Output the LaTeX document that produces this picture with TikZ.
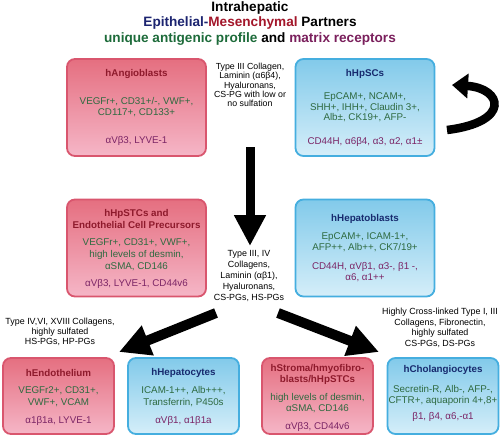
\documentclass[tikz,border=0pt]{standalone}
\usepackage{fontspec}
\setmainfont{Liberation Sans}
\usetikzlibrary{arrows.meta}
\definecolor{navy}{HTML}{1C2470}
\definecolor{mesred}{HTML}{A3162A}
\definecolor{ttlgreen}{HTML}{1D6B3A}
\definecolor{ttlpurple}{HTML}{7A1F5C}
\definecolor{pinktitle}{HTML}{8E1A2C}
\definecolor{bluetitle}{HTML}{172A6E}
\definecolor{boxgreen}{HTML}{2E6A40}
\definecolor{boxpurple}{HTML}{7B2566}
\definecolor{pinktop}{HTML}{E56F80}
\definecolor{pinkbot}{HTML}{F5B6C7}
\definecolor{pinkline}{HTML}{D9566E}
\definecolor{bluetop}{HTML}{82CAEA}
\definecolor{bluebot}{HTML}{D5EEF9}
\definecolor{blueline}{HTML}{45AEDF}
\tikzset{
  cellbox/.style={line width=1.8pt, rounded corners=8pt, inner sep=0pt},
  pinkbox/.style={cellbox, draw=pinkline, top color=pinktop, bottom color=pinkbot},
  bluebox/.style={cellbox, draw=blueline, top color=bluetop, bottom color=bluebot},
  bigbox/.style={minimum width=139pt, minimum height=97pt},
  smallbox/.style={minimum width=111pt, minimum height=76pt},
  bodytxt/.style={align=center, inner sep=0pt, font=\fontsize{9.8}{11}\selectfont},
  ptitle/.style={bodytxt, text=pinktitle, font=\fontsize{9.8}{12}\selectfont\bfseries},
  btitle/.style={bodytxt, text=bluetitle, font=\fontsize{9.8}{12}\selectfont\bfseries},
  grn/.style={bodytxt, text=boxgreen},
  prp/.style={bodytxt, text=boxpurple},
  matrixlbl/.style={align=center, inner sep=0pt, text=black},
  headline/.style={inner sep=0pt, font=\fontsize{13.6}{15}\selectfont\bfseries},
  bigarrow/.style={line width=9pt, -{Triangle[length=31pt,width=30pt]}},
}
\begin{document}
\begin{tikzpicture}[x=1pt,y=-1pt]
\useasboundingbox (0,0) rectangle (500,437);
% headings
\node[headline] (h1) at (250,7.5) {Intrahepatic};
\node[headline] (h2) at (250,23) {\textcolor{navy}{Epithelial-}\textcolor{mesred}{Mesenchymal} Partners};
\node[headline] (h3) at (250,39) {\textcolor{ttlgreen}{unique antigenic profile} and \textcolor{ttlpurple}{matrix receptors}};

% boxes
\node[pinkbox,bigbox] (angio) at (136.5,107.5) {};
\node[bluebox,bigbox] (hpsc) at (365,107.5) {};
\node[pinkbox,bigbox] (stc) at (136.5,248) {};
\node[bluebox,bigbox] (hblast) at (365,248) {};
\node[pinkbox,smallbox] (endo) at (58.5,396) {};
\node[bluebox,smallbox] (hepa) at (183.5,396) {};
\node[pinkbox,smallbox] (stroma) at (317.5,396) {};
\node[bluebox,smallbox] (chol) at (443,396) {};

% hAngioblasts
\node[ptitle] (angiot) at (136.5,74) {hAngioblasts};
\node[grn] (angiog) at (136.5,107.5) {VEGFr+, CD31+/-, VWF+,\\CD117+, CD133+};
\node[prp] (angiop) at (136.5,141) {αVβ3, LYVE-1};

% hHpSCs
\node[btitle] (hpsct) at (365,74) {hHpSCs};
\node[grn,font=\fontsize{9.8}{10.6}\selectfont] (hpscg) at (365,107.5) {EpCAM+, NCAM+,\\SHH+, IHH+, Claudin 3+,\\Alb±, CK19+, AFP-};
\node[prp] (hpscp) at (365,142) {CD44H, α6β4, α3, α2, α1±};

% hHpSTCs
\node[ptitle] (stct) at (136.5,219) {hHpSTCs and\\Endothelial Cell Precursors};
\node[grn,font=\fontsize{9.8}{12}\selectfont] (stcg) at (136.5,255) {VEGFr+, CD31+, VWF+,\\high levels of desmin,\\αSMA, CD146};
\node[prp] (stcp) at (136.5,284) {αVβ3, LYVE-1, CD44v6};

% hHepatoblasts
\node[btitle] (hblastt) at (365,219) {hHepatoblasts};
\node[grn] (hblastg) at (365,242.5) {EpCAM+, ICAM-1+,\\AFP++, Alb++, CK7/19+};
\node[prp] (hblastp) at (365,272.5) {CD44H, αVβ1, α3-, β1 -,\\α6, α1++};

% hEndothelium
\node[ptitle] (endot) at (58.5,373) {hEndothelium};
\node[grn,font=\fontsize{9.8}{12.5}\selectfont] (endog) at (58.5,396.5) {VEGFr2+, CD31+,\\VWF+, VCAM};
\node[prp] (endop) at (58.5,421) {α1β1a, LYVE-1};

% hHepatocytes
\node[btitle] (hepat) at (183.5,373) {hHepatocytes};
\node[grn,font=\fontsize{9.8}{12.5}\selectfont] (hepag) at (183.5,396.5) {ICAM-1++, Alb+++,\\Transferrin, P450s};
\node[prp] (hepap) at (183.5,421) {αVβ1, α1β1a};

% hStroma
\node[ptitle,font=\fontsize{9.8}{11}\selectfont\bfseries] (stromat) at (317.5,374.5) {hStroma/hmyofibro-\\blasts/hHpSTCs};
\node[grn] (stromag) at (317.5,403) {high levels of desmin,\\αSMA, CD146};
\node[prp] (stromap) at (317.5,427) {αVβ3, CD44v6};

% hCholangiocytes
\node[btitle] (cholt) at (443,370) {hCholangiocytes};
\node[grn] (cholg) at (443,395.5) {Secretin-R, Alb-, AFP-,\\CFTR+, aquaporin 4+,8+};
\node[prp] (cholp) at (443,417) {β1, β4, α6,-α1};

% matrix labels
\node[matrixlbl,font=\fontsize{8.8}{9.2}\selectfont] (m1) at (250,85) {Type III Collagen,\\Laminin (α6β4),\\Hyaluronans,\\CS-PG with low or\\no sulfation};
\node[matrixlbl,font=\fontsize{8.9}{11}\selectfont] (m2) at (249,276) {Type III, IV\\Collagens,\\Laminin (αβ1),\\Hyaluronans,\\CS-PGs, HS-PGs};
\node[matrixlbl,font=\fontsize{8.9}{10}\selectfont] (m3) at (60,332) {Type IV,VI, XVIII Collagens,\\highly sulfated\\HS-PGs, HP-PGs};
\node[matrixlbl,font=\fontsize{8.9}{10.6}\selectfont] (m4) at (440,328) {Highly Cross-linked Type I, III\\Collagens, Fibronectin,\\highly sulfated\\CS-PGs, DS-PGs};

% arrows
\coordinate (a0) at (250,147);
\coordinate (a1) at (250,246);
\draw[bigarrow] (a0) -- (a1);
\coordinate (l0) at (216,313);
\coordinate (l1) at (119,352);
\draw[bigarrow,line width=10pt] (l0) -- (l1);
\coordinate (r0) at (278,313);
\coordinate (r1) at (379,352);
\draw[bigarrow,line width=10pt] (r0) -- (r1);
\coordinate (c0) at (447,130);
\coordinate (c1) at (452,85);
\draw[line width=8.5pt, -{Triangle[length=16pt,width=24pt]}] (c0) .. controls (512,122) and (502,88) .. (c1);
\end{tikzpicture}
\end{document}
